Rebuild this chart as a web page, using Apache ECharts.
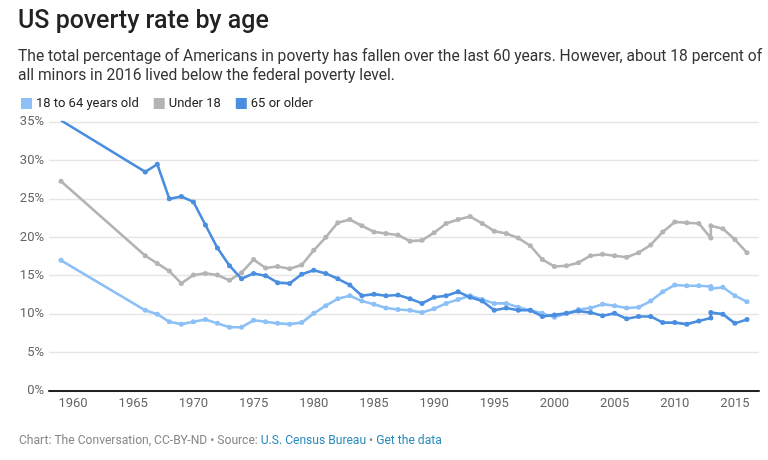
<!DOCTYPE html>
<html>
<head>
<meta charset="utf-8">
<script src="https://cdn.jsdelivr.net/npm/echarts@6/dist/echarts.min.js"></script>
<style>
html,body{margin:0;padding:0;background:#fff;}
#c{width:768px;height:460px;}
</style>
</head>
<body>
<div id="c"></div>
<script>
const years = [1959,1966,1967,1968,1969,1970,1971,1972,1973,1974,1975,1976,1977,1978,1979,1980,1981,1982,1983,1984,1985,1986,1987,1988,1989,1990,1991,1992,1993,1994,1995,1996,1997,1998,1999,2000,2001,2002,2003,2004,2005,2006,2007,2008,2009,2010,2011,2012,2013,2013,2014,2015,2016];
const adults = [17.0,10.5,10.0,9.0,8.7,9.0,9.3,8.8,8.3,8.3,9.2,9.0,8.8,8.7,8.9,10.1,11.1,12.0,12.4,11.7,11.3,10.8,10.6,10.5,10.2,10.7,11.4,11.9,12.4,11.9,11.4,11.4,10.9,10.5,10.1,9.6,10.1,10.6,10.8,11.3,11.1,10.8,10.9,11.7,12.9,13.8,13.7,13.7,13.6,13.3,13.5,12.4,11.6];
const children = [27.3,17.6,16.6,15.6,14.0,15.1,15.3,15.1,14.4,15.4,17.1,16.0,16.2,15.9,16.4,18.3,20.0,21.9,22.3,21.5,20.7,20.5,20.3,19.5,19.6,20.6,21.8,22.3,22.7,21.8,20.8,20.5,19.9,18.9,17.1,16.2,16.3,16.7,17.6,17.8,17.6,17.4,18.0,19.0,20.7,22.0,21.9,21.8,19.9,21.5,21.1,19.7,18.0];
const seniors = [35.2,28.5,29.5,25.0,25.3,24.6,21.6,18.6,16.3,14.6,15.3,15.0,14.1,14.0,15.2,15.7,15.3,14.6,13.8,12.4,12.6,12.4,12.5,12.0,11.4,12.2,12.4,12.9,12.2,11.7,10.5,10.8,10.5,10.5,9.7,9.9,10.1,10.4,10.2,9.8,10.1,9.4,9.7,9.7,8.9,8.9,8.7,9.1,9.5,10.2,10.0,8.8,9.3];
const seriesNames = ['18 to 64 years old','Under 18','65 or older'];
const colors = ['#8cc0f6','#b4b4b4','#4a8ee0'];

const pairs = arr => years.map((y,i)=>[y,arr[i]]);
const chart = echarts.init(document.getElementById('c'));
const F = 'Roboto, sans-serif';
const mk = (name, arr, color, z) => ({
  name, type:'line', data: pairs(arr), z,
  symbol:'circle', symbolSize:5, showSymbol:true,
  itemStyle:{color}, lineStyle:{color, width:2.6},
  emphasis:{disabled:true}, animation:false
});
chart.setOption({
  animation:false,
  color: colors,
  textStyle:{fontFamily:F},
  title:[
    {text:'US poverty rate by age', left:13, top:4,
     textStyle:{fontFamily:F, fontSize:25, fontWeight:500, color:'#222'}},
    {text:'The total percentage of Americans in poverty has fallen over the last 60 years. However, about 18 percent of\nall minors in 2016 lived below the federal poverty level.',
     left:13, top:43, textStyle:{fontFamily:F, fontSize:15.6, fontWeight:'normal', color:'#333', lineHeight:19}},
    {text:'{a|Chart: The Conversation, CC-BY-ND • Source: }{b|U.S. Census Bureau}{a| • }{b|Get the data}',
     left:14, top:430, textStyle:{fontWeight:'normal', rich:{
       a:{fontFamily:F, fontSize:12.1, fontWeight:'normal', color:'#888'},
       b:{fontFamily:F, fontSize:12.1, fontWeight:'normal', color:'#2a8bbd'}}}}
  ],
  legend:{
    left:16, top:92, itemWidth:11, itemHeight:11, itemGap:15, icon:'rect',
    textStyle:{fontFamily:F, fontSize:13, color:'#222', padding:[0,0,0,-1]},
    data: seriesNames
  },
  grid:{left:49, right:9, top:122, bottom:69},
  xAxis:{
    type:'value', min:1958, max:2017, interval:1,
    axisLine:{show:true, onZero:false, lineStyle:{color:'#222', width:2}},
    axisTick:{show:false},
    splitLine:{show:false},
    axisLabel:{fontFamily:F, fontSize:13, color:'#666', margin:6,
      formatter: v => (v % 5 === 0 ? String(v) : '')}
  },
  yAxis:{
    type:'value', min:0, max:35, interval:5,
    axisLine:{show:false}, axisTick:{show:false},
    splitLine:{lineStyle:{color:'#e6e6e6', width:1.3}},
    axisLabel:{fontFamily:F, fontSize:13, color:'#666', margin:5, formatter:'{value}%'}
  },
  series:[
    mk(seriesNames[0], adults, colors[0], 2),
    mk(seriesNames[1], children, colors[1], 3),
    mk(seriesNames[2], seniors, colors[2], 4)
  ]
});
</script>
</body>
</html>
